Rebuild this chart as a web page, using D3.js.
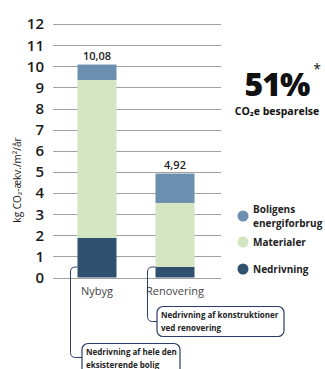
<!DOCTYPE html>
<html>
<head>
<meta charset="utf-8">
<script src="https://cdn.jsdelivr.net/npm/d3@7"></script>
<style>
  body { margin: 0; background: #fff; }
  svg { font-family: "Open Sans", "Noto Sans", sans-serif; }
</style>
</head>
<body>
<div id="chart"></div>
<script>
// Data
const categories = ['Nybyg', 'Renovering'];
const seriesNames = ['Nedrivning', 'Materialer', 'Boligens energiforbrug'];
const nedrivning = [1.88, 0.5];
const materialer = [7.47, 3.03];
const energi = [0.73, 1.39];
const totals = ['10,08', '4,92'];
const yTicks = [0, 1, 2, 3, 4, 5, 6, 7, 8, 9, 10, 11, 12];
const colors = { 'Nedrivning': '#2f506f', 'Materialer': '#d4e5c1', 'Boligens energiforbrug': '#6b8fae' };

const W = 325, H = 369;
const svg = d3.select('#chart').append('svg').attr('width', W).attr('height', H);

const x = d3.scaleBand().domain(categories).range([58, 214]).paddingInner(0.5).paddingOuter(0.25);
const y = d3.scaleLinear().domain([0, 12]).range([277.5, 24]);

// Gridlines
svg.append('g').selectAll('line').data(yTicks).enter().append('line')
  .attr('x1', 53).attr('x2', 221)
  .attr('y1', d => Math.round(y(d)) + 0.5).attr('y2', d => Math.round(y(d)) + 0.5)
  .attr('stroke', '#a0a0a0').attr('stroke-width', 1);

// Y tick labels
svg.append('g').selectAll('text').data(yTicks).enter().append('text')
  .attr('x', 44).attr('y', d => y(d)).attr('dy', '0.36em')
  .attr('text-anchor', 'end')
  .style('font-size', '15px').style('font-weight', 600).style('fill', '#1a1a1a')
  .text(d => d);

// Stacked bars
const rows = categories.map((c, i) => ({ cat: c, 'Nedrivning': nedrivning[i], 'Materialer': materialer[i], 'Boligens energiforbrug': energi[i] }));
const stacked = d3.stack().keys(seriesNames)(rows);
svg.append('g').selectAll('g').data(stacked).enter().append('g')
  .attr('fill', d => colors[d.key])
  .selectAll('rect').data(d => d).enter().append('rect')
  .attr('x', d => x(d.data.cat))
  .attr('width', x.bandwidth())
  .attr('y', d => y(d[1]))
  .attr('height', d => y(d[0]) - y(d[1]));

// Total labels
svg.append('g').selectAll('text').data(categories).enter().append('text')
  .attr('x', d => x(d) + x.bandwidth() / 2)
  .attr('y', (d, i) => y(nedrivning[i] + materialer[i] + energi[i]) - 5)
  .attr('text-anchor', 'middle')
  .style('font-size', '11px').style('font-weight', 600).style('fill', '#222')
  .text((d, i) => totals[i]);

// X labels
svg.append('g').selectAll('text').data(categories).enter().append('text')
  .attr('x', d => x(d) + x.bandwidth() / 2)
  .attr('y', 295)
  .attr('text-anchor', 'middle')
  .style('font-size', '11px').style('fill', '#444')
  .text(d => d);

// Y axis title
svg.append('text')
  .attr('transform', 'translate(21,180) rotate(-90)')
  .attr('text-anchor', 'middle')
  .style('font-size', '10px').style('fill', '#222')
  .text('kg CO₂-ækv./m²/år');

// 51% block
svg.append('text').attr('x', 277).attr('y', 96).attr('text-anchor', 'middle')
  .style('font-size', '32px').style('font-weight', 800).style('letter-spacing', '-1px')
  .style('fill', '#111').text('51%');
svg.append('text').attr('x', 317).attr('y', 74).attr('text-anchor', 'middle')
  .style('font-size', '14px').style('fill', '#111').text('*');
svg.append('text').attr('x', 277).attr('y', 115).attr('text-anchor', 'middle')
  .style('font-size', '10.5px').style('font-weight', 700).style('fill', '#111').text('CO₂e besparelse');

// Legend
const legend = [
  { key: 'Boligens energiforbrug', lines: ['Boligens', 'energiforbrug'], cy: 216 },
  { key: 'Materialer', lines: ['Materialer'], cy: 242 },
  { key: 'Nedrivning', lines: ['Nedrivning'], cy: 269 }
];
const lg = svg.append('g').selectAll('g').data(legend).enter().append('g');
lg.append('circle').attr('cx', 243).attr('cy', d => d.cy).attr('r', 5.5).attr('fill', d => colors[d.key]);
lg.append('text').attr('x', 253)
  .attr('y', d => d.cy - (d.lines.length - 1) * 6.5)
  .style('font-size', '10px').style('font-weight', 700).style('fill', '#222')
  .selectAll('tspan').data(d => d.lines).enter().append('tspan')
  .attr('x', 253).attr('dy', (d, i) => i === 0 ? '0.35em' : '13.5px')
  .text(d => d);

// Callouts
const navy = '#2d3d6a';
function callout(cat, lineX, bottomY, box, lines) {
  const bx = x(cat);
  const topY = 267;
  const r = 5;
  svg.append('path')
    .attr('d', `M${bx},${topY} H${lineX + r} Q${lineX},${topY} ${lineX},${topY + r} V${bottomY - r} Q${lineX},${bottomY} ${lineX + r},${bottomY} H${box.x}`)
    .attr('fill', 'none').attr('stroke', navy).attr('stroke-width', 1);
  svg.append('rect').attr('x', box.x).attr('y', box.y).attr('width', box.w).attr('height', box.h)
    .attr('rx', 6).attr('fill', '#fff').attr('stroke', navy).attr('stroke-width', 1.2);
  svg.append('g').selectAll('text').data(lines).enter().append('text')
    .attr('x', box.x + 4).attr('y', (d, i) => box.y + 11 + i * 13.5)
    .style('font-size', '8px').style('font-weight', 700).style('fill', '#222')
    .text(d => d);
}
callout('Renovering', 147.5, 321.5, { x: 157, y: 306.5, w: 127, h: 30 }, ['Nedrivning af konstruktioner', 'ved renovering']);
callout('Nybyg', 70.5, 357.5, { x: 82, y: 343.5, w: 98, h: 32 }, ['Nedrivning af hele den', 'eksisterende bolig']);
</script>
</body>
</html>
